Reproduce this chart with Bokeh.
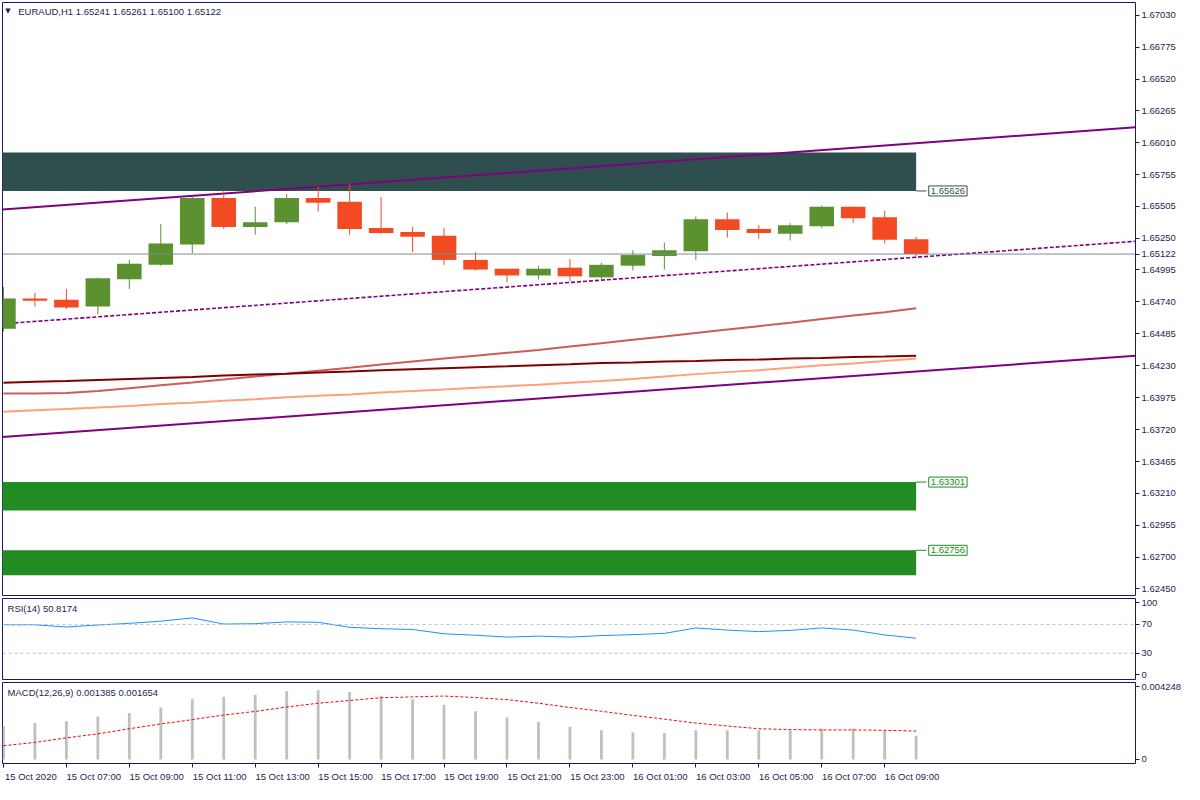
from bokeh.plotting import figure
from bokeh.layouts import column
from bokeh.models import (Range1d, FixedTicker, PrintfTickFormatter, Span, Label,
                          LinearAxis, ColumnDataSource)
from bokeh.embed import file_html
from bokeh.resources import INLINE

# ---------------- data ----------------
bars = list(range(30))  # 15 Oct 05:00 ... 16 Oct 10:00 (H1)

opens = [1.64526, 1.64766, 1.64758, 1.64704, 1.64920, 1.65036, 1.65199, 1.65570, 1.65338, 1.65376,
         1.65570, 1.65539, 1.65330, 1.65299, 1.65268, 1.65075, 1.65005, 1.64951, 1.65013, 1.64936,
         1.65029, 1.65106, 1.65145, 1.65400, 1.65322, 1.65284, 1.65345, 1.65500, 1.65415, 1.65241]
highs = [1.64859, 1.64812, 1.64843, 1.64936, 1.65075, 1.65361, 1.65577, 1.65631, 1.65500, 1.65600,
         1.65662, 1.65685, 1.65577, 1.65338, 1.65330, 1.65137, 1.65005, 1.65029, 1.65083, 1.65052,
         1.65152, 1.65214, 1.65423, 1.65454, 1.65353, 1.65369, 1.65508, 1.65500, 1.65469, 1.65261]
lows = [1.64503, 1.64704, 1.64681, 1.64642, 1.64843, 1.65029, 1.65129, 1.65322, 1.65276, 1.65361,
        1.65461, 1.65276, 1.65284, 1.65137, 1.65036, 1.64990, 1.64897, 1.64920, 1.64905, 1.64913,
        1.64990, 1.64998, 1.65075, 1.65253, 1.65245, 1.65230, 1.65330, 1.65369, 1.65206, 1.65100]
closes = [1.64766, 1.64750, 1.64696, 1.64928, 1.65044, 1.65206, 1.65570, 1.65338, 1.65376, 1.65570,
          1.65531, 1.65322, 1.65291, 1.65260, 1.65075, 1.64998, 1.64951, 1.65005, 1.64944, 1.65036,
          1.65114, 1.65152, 1.65400, 1.65315, 1.65291, 1.65353, 1.65500, 1.65407, 1.65237, 1.65122]

ma_maroon = [1.64094, 1.64102, 1.64109, 1.64117, 1.64125, 1.64133, 1.64140, 1.64152, 1.64160, 1.64167,
             1.64175, 1.64183, 1.64194, 1.64202, 1.64210, 1.64218, 1.64225, 1.64233, 1.64241, 1.64251,
             1.64256, 1.64264, 1.64268, 1.64276, 1.64279, 1.64287, 1.64291, 1.64299, 1.64303, 1.64310]
ma_indianred = [1.64009, 1.64009, 1.64012, 1.64028, 1.64051, 1.64074, 1.64097, 1.64121, 1.64144, 1.64167,
                1.64190, 1.64213, 1.64240, 1.64264, 1.64287, 1.64310, 1.64333, 1.64356, 1.64383, 1.64410,
                1.64437, 1.64464, 1.64492, 1.64519, 1.64546, 1.64573, 1.64604, 1.64631, 1.64658, 1.64689]
ma_salmon = [1.63862, 1.63874, 1.63885, 1.63897, 1.63908, 1.63924, 1.63935, 1.63951, 1.63962, 1.63978,
             1.63990, 1.64001, 1.64017, 1.64028, 1.64040, 1.64055, 1.64067, 1.64078, 1.64094, 1.64109,
             1.64125, 1.64144, 1.64163, 1.64179, 1.64194, 1.64214, 1.64233, 1.64248, 1.64268, 1.64287]

rsi = [69.5, 69.5, 66.4, 69.2, 71.5, 74.5, 79.0, 70.5, 71.0, 73.5,
       73.0, 66.0, 64.0, 63.0, 57.0, 55.0, 52.4, 53.7, 52.4, 54.5,
       55.8, 57.5, 65.1, 62.1, 60.0, 61.7, 65.1, 62.1, 55.4, 50.8174]
rsi_levels = [70, 30]
rsi_ticks = [0, 30, 70, 100]

macd_main = [0.00193, 0.00212, 0.00223, 0.00250, 0.00271, 0.00303, 0.00351, 0.00366, 0.00377, 0.00398,
             0.00404, 0.00393, 0.00372, 0.00351, 0.00319, 0.00281, 0.00244, 0.00218, 0.00191, 0.00170,
             0.00159, 0.00154, 0.00170, 0.00170, 0.00170, 0.00170, 0.00181, 0.00181, 0.00170, 0.001385]
macd_signal = [0.00080, 0.00099, 0.00126, 0.00149, 0.00179, 0.00207, 0.00232, 0.00259, 0.00280, 0.00306,
               0.00328, 0.00344, 0.00360, 0.00365, 0.00370, 0.00361, 0.00349, 0.00328, 0.00303, 0.00281,
               0.00257, 0.00235, 0.00212, 0.00195, 0.00179, 0.00174, 0.00172, 0.00172, 0.00170, 0.001654]
macd_ticks = [0, 0.004248]

price_ticks = [1.62450, 1.62700, 1.62955, 1.63210, 1.63465, 1.63720, 1.63975, 1.64230, 1.64485, 1.64740,
               1.64995, 1.65250, 1.65505, 1.65755, 1.66010, 1.66265, 1.66520, 1.66775, 1.67030]

time_tick_bars = [0, 2, 4, 6, 8, 10, 12, 14, 16, 18, 20, 22, 24, 26, 28]
time_tick_labels = ["15 Oct 2020", "15 Oct 07:00", "15 Oct 09:00", "15 Oct 11:00", "15 Oct 13:00",
                    "15 Oct 15:00", "15 Oct 17:00", "15 Oct 19:00", "15 Oct 21:00", "15 Oct 23:00",
                    "16 Oct 01:00", "16 Oct 03:00", "16 Oct 05:00", "16 Oct 07:00", "16 Oct 09:00"]

zone_tops = [1.65933, 1.63301, 1.62756]
zone_bottoms = [1.65626, 1.63074, 1.62556]
zone_label_prices = [1.65626, 1.63301, 1.62756]
zone_end_bar = 29

trend_bar0, trend_bar1 = -0.03, 35.97
trend_upper = [1.65477, 1.66134]
trend_lower = [1.63661, 1.64310]
trend_mid = [1.64565, 1.65224]

symbol = "EURAUD,H1"

# ---------------- style ----------------
FONT = "Liberation Sans"
FS = "9.5px"
NAVY = "#17176E"
TXT = "#1E1E4E"
BULL = "#5B912F"
BEAR = "#F24B24"
ZONE_COLORS = ["#2F4F4F", "#228B22", "#228B22"]
W = 1184

x_range = Range1d(trend_bar0, trend_bar1)


def make_fig(height, y_range, top, bottom):
    p = figure(width=W, height=height, x_range=x_range, y_range=y_range,
               output_backend="svg", toolbar_location=None,
               x_axis_location=None, y_axis_location=None,
               min_border_left=2, min_border_right=48,
               min_border_top=top, min_border_bottom=bottom)
    p.xgrid.visible = False
    p.ygrid.visible = False
    p.outline_line_color = NAVY
    p.outline_line_width = 1
    p.outline_line_alpha = 1.0
    p.background_fill_color = "white"
    p.border_fill_color = "white"
    return p


def style_axis(ax):
    ax.major_label_text_font = FONT
    ax.major_label_text_font_size = FS
    ax.major_label_text_color = TXT
    ax.major_tick_out = 4
    ax.major_tick_in = 0
    ax.minor_tick_out = 0
    ax.minor_tick_in = 0
    ax.major_tick_line_color = NAVY
    ax.axis_line_color = None
    ax.major_label_standoff = 2


def title_label(x, y, text):
    return Label(x=x, y=y, text=text, text_font=FONT, text_font_size=FS, text_color=TXT,
                 text_baseline="middle", text_align="left")


# ---------------- main price panel ----------------
p1 = make_fig(596, Range1d(1.62395, 1.67131), 2, 1)
yax = LinearAxis(ticker=FixedTicker(ticks=price_ticks + [closes[-1]]),
                 formatter=PrintfTickFormatter(format="%.5f"))
style_axis(yax)
p1.add_layout(yax, "right")

# zones
p1.quad(left=-1, right=zone_end_bar, top=zone_tops, bottom=zone_bottoms,
        fill_color=ZONE_COLORS, line_color=None)

# trend channel
p1.line([trend_bar0, trend_bar1], trend_upper, line_color="#800080", line_width=2)
p1.line([trend_bar0, trend_bar1], trend_lower, line_color="#800080", line_width=2)
p1.line([trend_bar0, trend_bar1], trend_mid, line_color="#800080", line_width=1.6, line_dash="4 2")

# moving averages
p1.line(bars, ma_indianred, line_color="#CD5C5C", line_width=2)
p1.line(bars, ma_maroon, line_color="#800000", line_width=2)
p1.line(bars, ma_salmon, line_color="#FFA07A", line_width=2)

# current price line
p1.add_layout(Span(location=closes[-1], dimension="width", line_color="#7F8A96", line_width=1))

# candles
colors = [BULL if c >= o else BEAR for o, c in zip(opens, closes)]
src = ColumnDataSource(dict(x=bars, h=highs, l=lows,
                            top=[max(o, c) for o, c in zip(opens, closes)],
                            bottom=[min(o, c) for o, c in zip(opens, closes)],
                            color=colors))
p1.segment(x0="x", x1="x", y0="l", y1="h", line_color="color", line_width=1, source=src)
p1.vbar(x="x", width=0.78, top="top", bottom="bottom", fill_color="color", line_color=None, source=src)

# zone labels
for price, col in zip(zone_label_prices, ZONE_COLORS):
    p1.segment(x0=[zone_end_bar], x1=[zone_end_bar + 0.33], y0=[price], y1=[price],
               line_color=col, line_width=1)
    p1.add_layout(Label(x=zone_end_bar + 0.40, y=price, text=f"{price:.5f}", text_font=FONT,
                        text_font_size=FS, text_color=col, text_baseline="middle", text_align="left",
                        background_fill_color="white", border_line_color=col, border_line_width=1,
                        padding=2))

# header
p1.add_layout(Label(x=0.06, y=1.67060, text="\u25BC", text_font="DejaVu Sans", text_font_size="7px",
                    text_color=TXT, text_baseline="middle", text_align="left"))
p1.add_layout(title_label(0.47, 1.67060,
                          f"{symbol}  {opens[-1]:.5f} {highs[-1]:.5f} {lows[-1]:.5f} {closes[-1]:.5f}"))

# ---------------- RSI panel ----------------
p2 = make_fig(84, Range1d(-6.5, 106), 2, 1)
rax = LinearAxis(ticker=FixedTicker(ticks=rsi_ticks))
style_axis(rax)
p2.add_layout(rax, "right")
for lvl in rsi_levels:
    p2.add_layout(Span(location=lvl, dimension="width", line_color="#C0C0C0", line_dash="3 3", line_width=1))
p2.line(bars, rsi, line_color="#1E90FF", line_width=1)
p2.add_layout(title_label(0.13, 92.0, f"RSI(14) {rsi[-1]:.4f}"))

# ---------------- MACD panel ----------------
p3 = make_fig(104, Range1d(-0.00024, 0.00449), 2, 20)
max_ = LinearAxis(ticker=FixedTicker(ticks=macd_ticks), formatter=PrintfTickFormatter(format="%.6f"),
                  major_label_overrides={0: "0"})
style_axis(max_)
p3.add_layout(max_, "right")

label_shift = 0.87  # labels start at the tick (left aligned look)
xax = LinearAxis(ticker=FixedTicker(ticks=[b + label_shift for b in time_tick_bars], minor_ticks=time_tick_bars),
                 major_label_overrides={b + label_shift: t for b, t in zip(time_tick_bars, time_tick_labels)})
style_axis(xax)
xax.major_tick_out = 0
xax.minor_tick_out = 4
xax.minor_tick_line_color = NAVY
xax.major_label_standoff = 3
p3.add_layout(xax, "below")

p3.vbar(x=bars, top=macd_main, bottom=0, width=0.09, fill_color="#C0C0C0", line_color=None)
p3.line(bars, macd_signal, line_color="#FF0000", line_width=1, line_dash="3 2")
p3.add_layout(title_label(0.13, 0.00390, f"MACD(12,26,9) {macd_main[-1]:.6f} {macd_signal[-1]:.6f}"))

layout = column(p1, p2, p3, spacing=0)
open("out.html", "w").write(file_html(layout, INLINE))
